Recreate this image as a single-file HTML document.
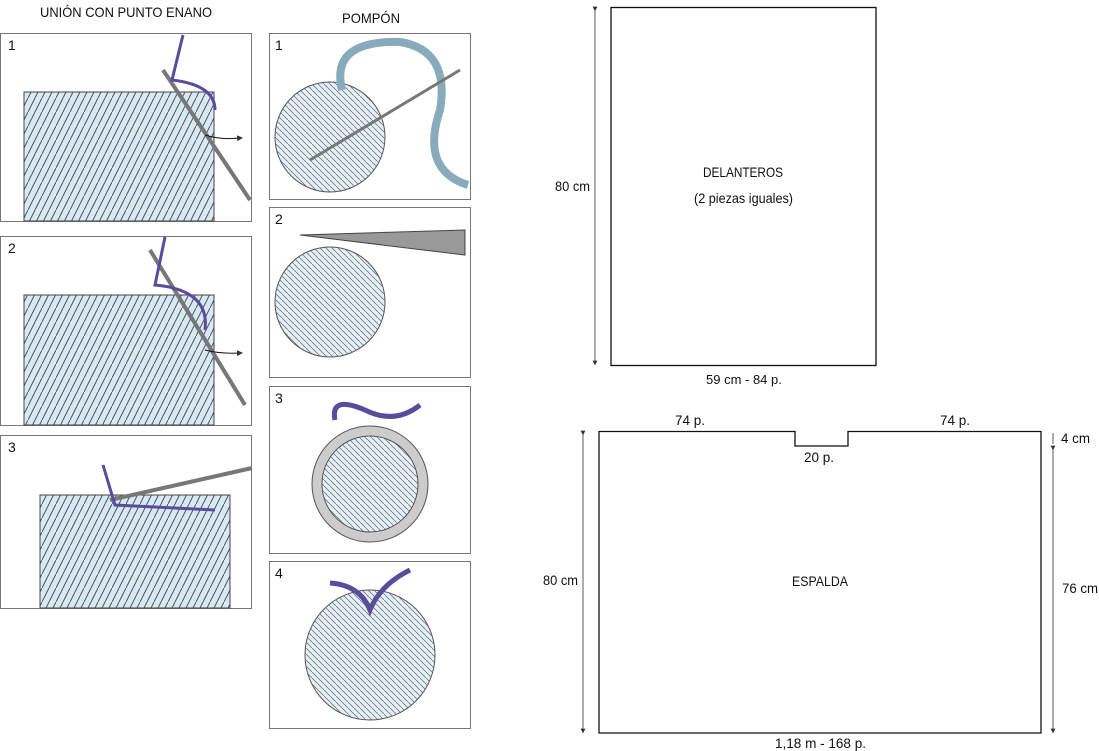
<!DOCTYPE html>
<html><head><meta charset="utf-8"><style>
body{margin:0;background:#fff;width:1099px;height:751px;overflow:hidden;font-family:"Liberation Sans",sans-serif;}
svg{position:absolute;left:0;top:0}
text{font-family:"Liberation Sans",sans-serif;font-size:14px;fill:#111}
</style></head><body>
<svg width="1099" height="751" viewBox="0 0 1099 751">
<defs>
<pattern id="knit" width="14" height="14" patternUnits="userSpaceOnUse">
<rect width="14" height="14" fill="#d6e9f5"/>
<path d="M0 14 L7 0 M7 14 L14 0" stroke="#555" stroke-width="1"/>
</pattern>
<pattern id="rays" width="6" height="6" patternUnits="userSpaceOnUse">
<rect width="6" height="6" fill="#e4f1fa"/>
<path d="M0 0 L6 6" stroke="#777" stroke-width="0.8"/>
</pattern>
<marker id="ah" markerWidth="6" markerHeight="6" refX="3" refY="3" orient="auto"><path d="M0 0 L6 3 L0 6z" fill="#333"/></marker>
</defs>
<text x="40" y="17" textLength="172" lengthAdjust="spacingAndGlyphs">UNIÓN CON PUNTO ENANO</text>
<text x="342" y="23" textLength="58" lengthAdjust="spacingAndGlyphs">POMPÓN</text>
<g fill="#fff" stroke="#777" stroke-width="1">
<rect x="0.5" y="33.5" width="251" height="188"/>
<rect x="0.5" y="236.5" width="251" height="189"/>
<rect x="0.5" y="435.5" width="251" height="173"/>
<rect x="269.5" y="33.5" width="201" height="166"/>
<rect x="269.5" y="207.5" width="201" height="170"/>
<rect x="269.5" y="386.5" width="201" height="167"/>
<rect x="269.5" y="561.5" width="201" height="167"/>
</g>
<g stroke="#444" stroke-width="1">
<rect x="24" y="92" width="190" height="129" fill="url(#knit)"/>
<rect x="24" y="295" width="190" height="130" fill="url(#knit)"/>
<rect x="40" y="495" width="190" height="113" fill="url(#knit)"/>
</g>
<g stroke="#777" stroke-width="4" fill="none">
<path d="M163 70 L250 200"/><path d="M150 250 L245 405"/><path d="M110 500 L252 468"/>
</g>
<g stroke="#5a4c9c" stroke-width="3" fill="none">
<path d="M183 35 L172 80 Q215 85 215 110"/><path d="M165 237 L155 285 Q210 290 205 330"/><path d="M103 465 L115 505 L215 510"/>
</g>
<path d="M205 135 Q220 140 240 138" stroke="#111" fill="none" marker-end="url(#ah)"/>
<path d="M205 350 Q220 354 240 353" stroke="#111" fill="none" marker-end="url(#ah)"/>
<circle cx="330" cy="137" r="55" fill="url(#rays)" stroke="#555"/>
<path d="M342 90 Q330 40 400 42 Q450 50 440 110 Q420 170 468 185" stroke="#8ab" stroke-width="8" fill="none"/>
<path d="M310 160 L460 70" stroke="#777" stroke-width="3"/>
<circle cx="330" cy="302" r="55" fill="url(#rays)" stroke="#555"/>
<path d="M300 235 L465 230 L465 255 Z" fill="#999" stroke="#444"/>
<circle cx="370" cy="484" r="58" fill="#ccc" stroke="#555"/>
<circle cx="370" cy="484" r="48" fill="url(#rays)" stroke="#555"/>
<path d="M335 420 Q330 395 365 410 Q395 425 420 405" stroke="#5a4c9c" stroke-width="5" fill="none"/>
<circle cx="370" cy="655" r="65" fill="url(#rays)" stroke="#555"/>
<path d="M330 583 Q360 585 370 610 Q380 585 410 570" stroke="#5a4c9c" stroke-width="5" fill="none"/>
<g font-size="14"><text x="8" y="50">1</text><text x="8" y="253">2</text><text x="8" y="452">3</text>
<text x="275" y="50">1</text><text x="275" y="224">2</text><text x="275" y="403">3</text><text x="275" y="578">4</text></g>
<rect x="611" y="7.5" width="265" height="358" fill="none" stroke="#111" stroke-width="1.3"/>
<line x1="595" y1="9" x2="595" y2="363" stroke="#333" stroke-width="0.8" marker-start="url(#ah)" marker-end="url(#ah)"/>
<text x="555" y="191" textLength="35" lengthAdjust="spacingAndGlyphs">80 cm</text>
<text x="703" y="177" textLength="80" lengthAdjust="spacingAndGlyphs">DELANTEROS</text>
<text x="694" y="203" textLength="99" lengthAdjust="spacingAndGlyphs">(2 piezas iguales)</text>
<text x="706" y="384" style="font-size:13px">59 cm - 84 p.</text>
<path d="M599 431.5 H795 V446 H848 V431.5 H1041 V733 H599 Z" fill="none" stroke="#111" stroke-width="1.3"/>
<line x1="583" y1="433" x2="583" y2="731" stroke="#333" stroke-width="0.8" marker-start="url(#ah)" marker-end="url(#ah)"/>
<line x1="1053" y1="433" x2="1053" y2="444" stroke="#333" stroke-width="0.8"/>
<line x1="1053" y1="448" x2="1053" y2="731" stroke="#333" stroke-width="0.8" marker-start="url(#ah)" marker-end="url(#ah)"/>
<text x="543" y="585" textLength="35" lengthAdjust="spacingAndGlyphs">80 cm</text>
<text x="675" y="425" textLength="30" lengthAdjust="spacingAndGlyphs">74 p.</text>
<text x="940" y="425" textLength="30" lengthAdjust="spacingAndGlyphs">74 p.</text>
<text x="804" y="462" textLength="30" lengthAdjust="spacingAndGlyphs">20 p.</text>
<text x="1061" y="443" textLength="29" lengthAdjust="spacingAndGlyphs">4 cm</text>
<text x="1062" y="593" textLength="36" lengthAdjust="spacingAndGlyphs">76 cm</text>
<text x="792" y="586" textLength="56" lengthAdjust="spacingAndGlyphs">ESPALDA</text>
<text x="775" y="748" textLength="91" lengthAdjust="spacingAndGlyphs">1,18 m - 168 p.</text>
</svg>
</body></html>
